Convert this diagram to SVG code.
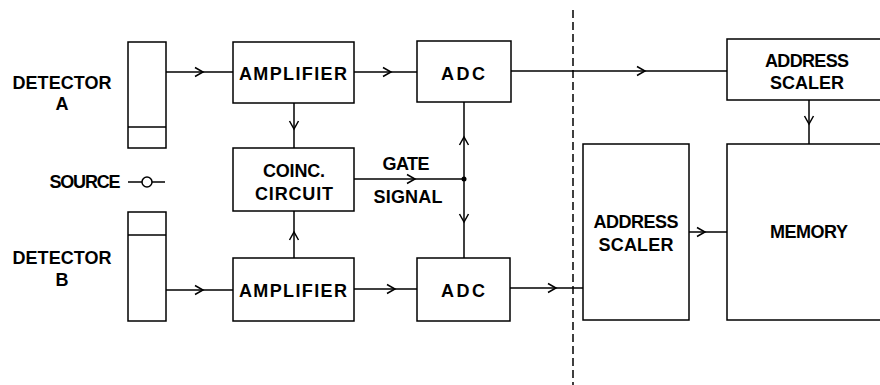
<svg xmlns="http://www.w3.org/2000/svg" width="880" height="385" viewBox="0 0 880 385">
<style>
  .box { fill: #fff; stroke: #000; stroke-width: 1.5; }
  .ln { fill: none; stroke: #000; stroke-width: 1.5; }
  .t { font-family: "Liberation Sans", Arial, sans-serif; font-weight: bold; font-size: 18px; fill: #000; text-anchor: middle; }
</style>
<defs>
  <marker id="chev" markerUnits="userSpaceOnUse" markerWidth="12" markerHeight="12" refX="8" refY="4.5" orient="auto" overflow="visible">
    <path d="M0,0 L8,4.5 L0,9" fill="none" stroke="#000" stroke-width="1.5"/>
  </marker>
</defs>
<rect width="880" height="385" fill="#fff"/>

<g id="boundary">
  <line class="ln" x1="573" y1="10" x2="573" y2="385" stroke-dasharray="8,4"/>
</g>

<g id="detectorA">
  <rect class="box" x="128" y="42" width="38" height="106"/>
  <line class="ln" x1="128" y1="127" x2="166" y2="127"/>
  <text class="t" x="62" y="89" textLength="99" lengthAdjust="spacing">DETECTOR</text>
  <text class="t" x="62" y="110">A</text>
</g>

<g id="source">
  <text class="t" x="85" y="188" textLength="71" lengthAdjust="spacing">SOURCE</text>
  <line class="ln" x1="128" y1="182" x2="142" y2="182"/>
  <circle class="ln" cx="147" cy="182" r="5"/>
  <line class="ln" x1="152" y1="182" x2="165" y2="182"/>
</g>

<g id="detectorB">
  <rect class="box" x="128" y="212" width="38" height="109"/>
  <line class="ln" x1="128" y1="235" x2="166" y2="235"/>
  <text class="t" x="62" y="264" textLength="99" lengthAdjust="spacing">DETECTOR</text>
  <text class="t" x="62" y="286">B</text>
</g>

<g id="amplifierA">
  <rect class="box" x="233" y="42" width="121" height="61"/>
  <text class="t" x="293" y="80" textLength="108" lengthAdjust="spacing">AMPLIFIER</text>
</g>

<g id="coinc">
  <rect class="box" x="233" y="148" width="121" height="63"/>
  <text class="t" x="294" y="177" textLength="62" lengthAdjust="spacing">COINC.</text>
  <text class="t" x="294" y="200" textLength="78" lengthAdjust="spacing">CIRCUIT</text>
</g>

<g id="amplifierB">
  <rect class="box" x="233" y="258" width="121" height="63"/>
  <text class="t" x="293" y="297" textLength="108" lengthAdjust="spacing">AMPLIFIER</text>
</g>

<g id="adcA">
  <rect class="box" x="417" y="41" width="94" height="61"/>
  <text class="t" x="463" y="80" textLength="44" lengthAdjust="spacing">ADC</text>
</g>

<g id="adcB">
  <rect class="box" x="417" y="258" width="93" height="63"/>
  <text class="t" x="463" y="297" textLength="44" lengthAdjust="spacing">ADC</text>
</g>

<g id="scalerA">
  <rect class="box" x="727" y="39" width="170" height="61"/>
  <text class="t" x="807" y="67" textLength="84" lengthAdjust="spacing">ADDRESS</text>
  <text class="t" x="807" y="89" textLength="74" lengthAdjust="spacing">SCALER</text>
</g>

<g id="scalerB">
  <rect class="box" x="583" y="144" width="106" height="176"/>
  <text class="t" x="636" y="228" textLength="85" lengthAdjust="spacing">ADDRESS</text>
  <text class="t" x="636" y="251" textLength="75" lengthAdjust="spacing">SCALER</text>
</g>

<g id="memory">
  <rect class="box" x="727" y="144" width="170" height="176"/>
  <text class="t" x="809" y="238" textLength="78" lengthAdjust="spacing">MEMORY</text>
</g>

<g id="connectors">
  <path class="ln" marker-mid="url(#chev)" d="M166,72 L203,72 L233,72"/>
  <path class="ln" marker-mid="url(#chev)" d="M354,72 L391,72 L417,72"/>
  <path class="ln" marker-mid="url(#chev)" d="M511,71 L645,71 L727,71"/>
  <path class="ln" marker-mid="url(#chev)" d="M294,103 L294,129 L294,148"/>
  <path class="ln" marker-mid="url(#chev)" d="M294,258 L294,232 L294,211"/>
  <path class="ln" marker-mid="url(#chev)" d="M354,179 L415,179 L464,179"/>
  <path class="ln" marker-mid="url(#chev)" d="M464,179 L464,137 L464,102"/>
  <path class="ln" marker-mid="url(#chev)" d="M464,179 L464,222 L464,258"/>
  <circle cx="464" cy="179" r="2.5" fill="#000"/>
  <path class="ln" marker-mid="url(#chev)" d="M166,290 L203,290 L233,290"/>
  <path class="ln" marker-mid="url(#chev)" d="M354,289 L395,289 L417,289"/>
  <path class="ln" marker-mid="url(#chev)" d="M510,288 L556,288 L583,288"/>
  <path class="ln" marker-mid="url(#chev)" d="M689,232 L705,232 L727,232"/>
  <path class="ln" marker-mid="url(#chev)" d="M809,100 L809,124 L809,144"/>
  <text class="t" x="406" y="170" textLength="47" lengthAdjust="spacing">GATE</text>
  <text class="t" x="408" y="203" textLength="69" lengthAdjust="spacing">SIGNAL</text>
</g>
</svg>
